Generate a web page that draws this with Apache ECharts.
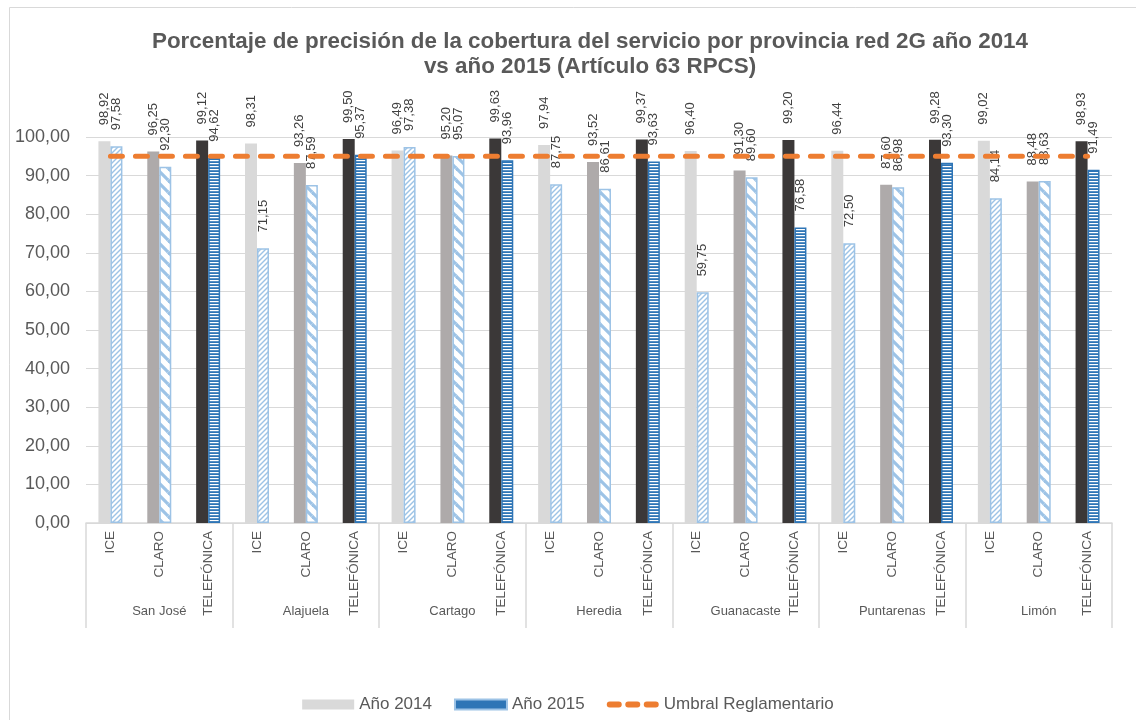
<!DOCTYPE html>
<html>
<head>
<meta charset="utf-8">
<script src="https://cdn.jsdelivr.net/npm/echarts@6/dist/echarts.min.js"></script>
<style>
html,body{margin:0;padding:0;background:#fff;}
#chart{width:1136px;height:720px;}
</style>
</head>
<body>
<div id="chart"></div>
<script>
const provinces = ['San José','Alajuela','Cartago','Heredia','Guanacaste','Puntarenas','Limón'];
const operators = ['ICE','CLARO','TELEFÓNICA'];
const values2014 = [98.92,96.25,99.12, 98.31,93.26,99.50, 96.49,95.20,99.63, 97.94,93.52,99.37, 96.40,91.30,99.20, 96.44,87.60,99.28, 99.02,88.48,98.93];
const values2015 = [97.58,92.30,94.62, 71.15,87.59,95.37, 97.38,95.07,93.96, 87.75,86.61,93.63, 59.75,89.60,76.58, 72.50,86.98,93.30, 84.14,88.63,91.49];
const threshold = 95;
const yTicks = {min:0, max:100, interval:10};
const seriesNames = ['Año 2014','Año 2015','Umbral Reglamentario'];
const titleLines = ['Porcentaje de precisión de la cobertura del servicio por provincia red 2G año 2014','vs año 2015 (Artículo 63 RPCS)'];

const FONT = "'Liberation Sans', Arial, sans-serif";
const TXT = '#595959';

function pattern(kind){
  const c = document.createElement('canvas');
  let ctx;
  if(kind === 'fine'){
    c.width = 5; c.height = 5; ctx = c.getContext('2d');
    ctx.fillStyle = '#fff'; ctx.fillRect(0,0,5,5);
    ctx.strokeStyle = '#9dc3e6'; ctx.lineWidth = 1.4;
    [[-5,5,5,-5],[0,5,5,0],[0,10,10,0]].forEach(function(s){
      ctx.beginPath(); ctx.moveTo(s[0],s[1]); ctx.lineTo(s[2],s[3]); ctx.stroke();
    });
  } else if(kind === 'wide'){
    c.width = 12; c.height = 12; ctx = c.getContext('2d');
    ctx.fillStyle = '#fff'; ctx.fillRect(0,0,12,12);
    ctx.strokeStyle = '#9dc3e6'; ctx.lineWidth = 3.2;
    [[-12,0,0,12],[0,0,12,12],[12,0,24,12],[0,-12,12,0],[0,12,12,24]].forEach(function(s){
      ctx.beginPath(); ctx.moveTo(s[0],s[1]); ctx.lineTo(s[2],s[3]); ctx.stroke();
    });
  } else {
    c.width = 4; c.height = 3; ctx = c.getContext('2d');
    ctx.fillStyle = '#2e75b6'; ctx.fillRect(0,0,4,3);
    ctx.fillStyle = '#ffffff'; ctx.fillRect(0,1,4,1.2);
  }
  return {image: c, repeat: 'repeat'};
}

const colors2014 = ['#d9d9d9','#aeaaaa','#3b3838'];
const fills2015 = [pattern('fine'), pattern('wide'), pattern('horiz')];
const borders2015 = ['#9dc3e6','#9dc3e6','#2e75b6'];

const categories = [];
provinces.forEach(function(){ operators.forEach(function(o){ categories.push(o); }); });

const fmt = function(v){ return Number(v).toFixed(2).replace('.', ','); };

const labelCfg = {
  show: true, position: 'top', rotate: 90, align: 'left', verticalAlign: 'middle',
  distance: 16, color: '#404040', fontSize: 13, fontFamily: FONT,
  formatter: function(p){ return fmt(p.value); }
};

const d2014 = values2014.map(function(v,i){
  return {value: v, itemStyle: {color: colors2014[i % 3]}};
});
const d2015 = values2015.map(function(v,i){
  return {value: v, itemStyle: {color: fills2015[i % 3], borderColor: borders2015[i % 3], borderWidth: 1.5}};
});

// legend icon for dashed threshold line: three rounded dashes, 6 tall in a 10-tall box
const dashIcon = 'path://M0,0L0,0ZM52,10L52,10Z' +
  'M3,2H12A3,3 0 0 1 12,8H3A3,3 0 0 1 3,2Z' +
  'M21.5,2H30.5A3,3 0 0 1 30.5,8H21.5A3,3 0 0 1 21.5,2Z' +
  'M40,2H49A3,3 0 0 1 49,8H40A3,3 0 0 1 40,2Z';

const chart = echarts.init(document.getElementById('chart'), null, {renderer: 'canvas'});
chart.setOption({
  animation: false,
  backgroundColor: '#ffffff',
  textStyle: {fontFamily: FONT},
  graphic: [
    {type: 'rect', shape: {x: 9.5, y: 7.5, width: 1200, height: 800}, style: {fill: 'none', stroke: '#d9d9d9', lineWidth: 1}, silent: true, z: -10},
    {type: 'text', x: 590, y: 42, style: {text: titleLines[0], font: 'bold 22.4px ' + FONT, fill: TXT, align: 'center', verticalAlign: 'middle'}},
    {type: 'text', x: 590, y: 67, style: {text: titleLines[1], font: 'bold 22.4px ' + FONT, fill: TXT, align: 'center', verticalAlign: 'middle'}}
  ],
  grid: {left: 86, right: 24, top: 137, bottom: 197, containLabel: false},
  legend: {
    data: [
      {name: seriesNames[0], icon: 'rect'},
      {name: seriesNames[1], icon: 'rect'},
      {name: seriesNames[2], icon: dashIcon, itemStyle: {color: '#ed7d31', borderWidth: 0}}
    ],
    bottom: 2, left: 'center', itemWidth: 52, itemHeight: 10, itemGap: 22,
    textStyle: {color: TXT, fontSize: 17, fontFamily: FONT}
  },
  xAxis: [
    {
      type: 'category', data: categories, position: 'bottom',
      axisLine: {show: true, lineStyle: {color: '#d9d9d9', width: 1.5}},
      axisTick: {show: false},
      axisLabel: {interval: 0, rotate: 90, margin: 8, fontSize: 13.5, color: TXT, fontFamily: FONT}
    },
    {
      type: 'category', data: provinces, position: 'bottom',
      axisLine: {show: false},
      axisTick: {show: true, length: 105, interval: 0, lineStyle: {color: '#d9d9d9', width: 1.5}},
      axisLabel: {interval: 0, margin: 82, fontSize: 13, color: TXT, fontFamily: FONT}
    }
  ],
  yAxis: {
    type: 'value', min: yTicks.min, max: yTicks.max, interval: yTicks.interval,
    axisLine: {show: false}, axisTick: {show: false},
    splitLine: {lineStyle: {color: '#d9d9d9', width: 1.2}},
    axisLabel: {formatter: fmt, fontSize: 18, color: TXT, margin: 16, fontFamily: FONT}
  },
  series: [
    {
      name: seriesNames[0], type: 'bar', xAxisIndex: 0, data: d2014,
      barWidth: 12, barGap: '0%',
      itemStyle: {color: '#d9d9d9'},
      label: labelCfg, z: 2
    },
    {
      name: seriesNames[1], type: 'bar', xAxisIndex: 0, data: d2015,
      barWidth: 12, barGap: '0%',
      itemStyle: {color: '#2e75b6', borderColor: '#9dc3e6', borderWidth: 1.5},
      label: labelCfg, z: 2
    },
    {
      name: seriesNames[2], type: 'line', xAxisIndex: 0,
      data: categories.map(function(){ return threshold; }),
      symbol: 'none', silent: true,
      itemStyle: {color: '#ed7d31'},
      lineStyle: {color: '#ed7d31', width: 5, type: [12, 13], cap: 'round'},
      z: 5
    }
  ]
});
</script>
</body>
</html>
